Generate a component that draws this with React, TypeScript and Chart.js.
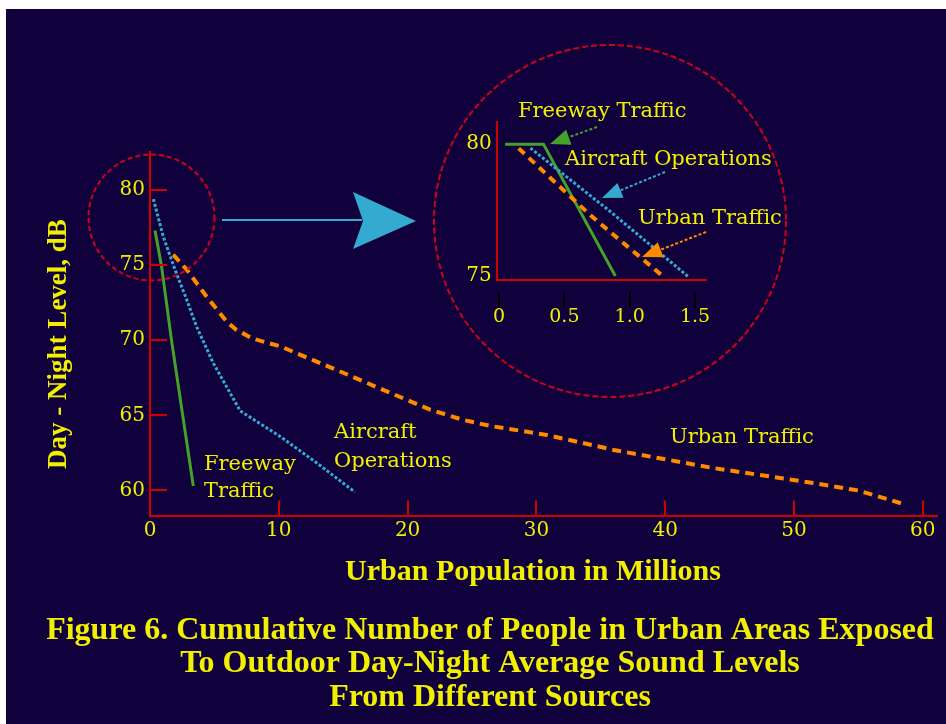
import React, { useEffect, useRef } from 'react';
import { Chart, registerables } from 'chart.js';

Chart.register(...registerables);

// ---------- data ----------
const mainXTicks = [0, 10, 20, 30, 40, 50, 60];
const mainYTicks = [60, 65, 70, 75, 80];

const freewayX = [0.39, 0.9, 1.67, 2.54, 3.36];
const freewayY = [77.3, 74.9, 70, 65, 60.3];

const aircraftX = [0.26, 1.03, 1.94, 2.85, 3.62, 4.9, 7.0, 10.1, 13.0, 15.9];
const aircraftY = [79.4, 76.9, 74.7, 72.7, 70.9, 68.5, 65.3, 63.6, 61.8, 59.9];

const urbanX = [1.8, 2.85, 4.4, 6.0, 6.7, 8.0, 10.1, 14.0, 18.1, 21.7, 24.3, 26.4, 30.8, 36.0, 43.7, 51.5, 55.0, 58.5];
const urbanY = [75.7, 74.7, 72.9, 71.2, 70.7, 70.1, 69.6, 68.2, 66.7, 65.4, 64.7, 64.3, 63.7, 62.7, 61.5, 60.5, 60.0, 59.1];

const insetXTicks = [0, 0.5, 1.0, 1.5];
const insetXLabels = ['0', '0.5', '1.0', '1.5'];
const insetYTicks = [75, 80];

const insetFreewayX = [0.046, 0.34, 0.89];
const insetFreewayY = [80, 80, 75];
const insetAircraftX = [0.24, 0.85, 1.45];
const insetAircraftY = [79.85, 77.45, 74.97];
const insetUrbanX = [0.15, 0.7, 1.26];
const insetUrbanY = [79.84, 77.3, 74.97];

const captionLines = [
  'Figure 6. Cumulative Number of People in Urban Areas Exposed',
  'To Outdoor Day-Night Average Sound Levels',
  'From Different Sources',
];
const xTitle = 'Urban Population in Millions';
const yTitle = 'Day - Night Level, dB';

// ---------- styles ----------
const BG = '#10003c';
const YELLOW = '#f0f000';
const RED = '#d00000';
const CIRCLE = '#d00018';
const GREEN = '#44a22a';
const BLUE = '#35aad0';
const ORANGE = '#ff8a00';
const SERIF = "'DejaVu Serif', serif";
const BOLD = "'Liberation Serif', serif";

const pts = (xs: number[], ys: number[]) => xs.map((x, i) => ({ x, y: ys[i] }));

function dashedCircle(ctx: CanvasRenderingContext2D, cx: number, cy: number, r: number, dash: number[]) {
  ctx.save();
  ctx.strokeStyle = CIRCLE;
  ctx.lineWidth = 2;
  ctx.setLineDash(dash);
  ctx.beginPath();
  ctx.arc(cx, cy, r, 0, Math.PI * 2);
  ctx.stroke();
  ctx.restore();
}

function arrow(ctx: CanvasRenderingContext2D, x1: number, y1: number, x2: number, y2: number, color: string) {
  const ang = Math.atan2(y2 - y1, x2 - x1);
  const hl = 20, hw = 8;
  const bx = x2 - Math.cos(ang) * hl, by = y2 - Math.sin(ang) * hl;
  ctx.save();
  ctx.strokeStyle = color;
  ctx.fillStyle = color;
  ctx.lineWidth = 2;
  ctx.setLineDash([3, 2]);
  ctx.beginPath();
  ctx.moveTo(x1, y1);
  ctx.lineTo(bx, by);
  ctx.stroke();
  ctx.setLineDash([]);
  ctx.beginPath();
  ctx.moveTo(x2, y2);
  ctx.lineTo(bx + Math.sin(ang) * hw, by - Math.cos(ang) * hw);
  ctx.lineTo(bx - Math.sin(ang) * hw, by + Math.cos(ang) * hw);
  ctx.closePath();
  ctx.fill();
  ctx.restore();
}

const mainDecor = {
  id: 'mainDecor',
  afterDraw(chart: any) {
    const { ctx, chartArea, scales } = chart;
    ctx.save();
    // inner tick marks
    ctx.strokeStyle = RED;
    ctx.lineWidth = 2;
    mainYTicks.forEach((v) => {
      const y = Math.round(scales.y.getPixelForValue(v));
      ctx.beginPath();
      ctx.moveTo(chartArea.left, y);
      ctx.lineTo(chartArea.left + 17, y);
      ctx.stroke();
    });
    mainXTicks.forEach((v) => {
      if (v === 0) return;
      const x = Math.round(scales.x.getPixelForValue(v));
      ctx.beginPath();
      ctx.moveTo(x, chartArea.bottom);
      ctx.lineTo(x, chartArea.bottom - 16);
      ctx.stroke();
    });
    // circles
    dashedCircle(ctx, 151.5, 217.5, 63, [5, 3]);
    dashedCircle(ctx, 610, 221, 176, [6, 3]);
    // big arrow
    ctx.strokeStyle = BLUE;
    ctx.fillStyle = BLUE;
    ctx.lineWidth = 2;
    ctx.beginPath();
    ctx.moveTo(222, 220);
    ctx.lineTo(362, 220);
    ctx.stroke();
    ctx.beginPath();
    ctx.moveTo(353, 192);
    ctx.lineTo(416, 221);
    ctx.lineTo(353, 249);
    ctx.lineTo(363, 221);
    ctx.closePath();
    ctx.fill();
    // axis titles
    ctx.fillStyle = YELLOW;
    ctx.textAlign = 'center';
    ctx.textBaseline = 'middle';
    ctx.font = `bold 30px ${BOLD}`;
    ctx.fillText(xTitle, 533, 572);
    ctx.save();
    ctx.translate(59, 344);
    ctx.rotate(-Math.PI / 2);
    ctx.font = `bold 27px ${BOLD}`;
    ctx.fillText(yTitle, 0, 0);
    ctx.restore();
    // labels
    ctx.font = `21px ${SERIF}`;
    ctx.textAlign = 'left';
    ctx.textBaseline = 'alphabetic';
    ctx.fillText('Freeway', 204, 470);
    ctx.fillText('Traffic', 204, 497);
    ctx.fillText('Aircraft', 334, 438);
    ctx.fillText('Operations', 334, 467);
    ctx.fillText('Urban Traffic', 670, 443);
    ctx.restore();
  },
};

const insetDecor = {
  id: 'insetDecor',
  afterDraw(chart: any) {
    const { ctx, chartArea, scales } = chart;
    ctx.save();
    ctx.strokeStyle = '#000000';
    ctx.lineWidth = 2;
    insetXTicks.forEach((v) => {
      const x = Math.round(scales.x.getPixelForValue(v));
      ctx.beginPath();
      ctx.moveTo(x, chartArea.bottom + 12);
      ctx.lineTo(x, chartArea.bottom + 28);
      ctx.stroke();
    });
    arrow(ctx, 597, 127, 550, 144, GREEN);
    arrow(ctx, 665, 172, 602, 198, BLUE);
    arrow(ctx, 706, 232, 642, 257, ORANGE);
    ctx.fillStyle = YELLOW;
    ctx.font = `21px ${SERIF}`;
    ctx.textAlign = 'left';
    ctx.textBaseline = 'alphabetic';
    ctx.fillText('Freeway Traffic', 518, 117);
    ctx.fillText('Aircraft Operations', 565, 165);
    ctx.fillText('Urban Traffic', 638, 224);
    ctx.restore();
  },
};

export default function App() {
  const mainRef = useRef<HTMLCanvasElement>(null);
  const insetRef = useRef<HTMLCanvasElement>(null);

  useEffect(() => {
    const main = new Chart(mainRef.current as HTMLCanvasElement, {
      type: 'line',
      data: {
        datasets: [
          {
            label: 'Urban Traffic',
            data: pts(urbanX, urbanY),
            borderColor: ORANGE,
            borderWidth: 4,
            borderDash: [9, 6],
            pointRadius: 0,
            fill: false,
          },
          {
            label: 'Aircraft Operations',
            data: pts(aircraftX, aircraftY),
            borderColor: BLUE,
            borderWidth: 3,
            borderDash: [3, 2],
            pointRadius: 0,
            fill: false,
          },
          {
            label: 'Freeway Traffic',
            data: pts(freewayX, freewayY),
            borderColor: GREEN,
            borderWidth: 3,
            pointRadius: 0,
            fill: false,
          },
        ],
      },
      options: {
        animation: false,
        responsive: false,
        layout: { padding: { left: 43, right: 9, top: 152, bottom: 0 } },
        plugins: {
          legend: { display: false },
          tooltip: { enabled: false },
          title: {
            display: true,
            position: 'bottom',
            text: captionLines,
            color: YELLOW,
            font: { family: BOLD, weight: 'bold', size: 32, lineHeight: 1.047 },
            padding: { top: 17, bottom: 10 },
          },
        },
        scales: {
          x: {
            type: 'linear',
            min: 0,
            max: 61.1,
            afterBuildTicks: (s: any) => {
              s.ticks = mainXTicks.map((v) => ({ value: v }));
            },
            afterFit: (s: any) => {
              s.height = 80;
            },
            grid: { display: false, drawTicks: false, tickLength: 0 },
            border: { display: true, color: RED, width: 2 },
            ticks: {
              color: YELLOW,
              font: { family: SERIF, size: 20 },
              padding: 2,
              autoSkip: false,
              maxRotation: 0,
            },
            title: { display: false },
          },
          y: {
            type: 'linear',
            min: 58.27,
            max: 82.53,
            afterBuildTicks: (s: any) => {
              s.ticks = mainYTicks.map((v) => ({ value: v }));
            },
            afterFit: (s: any) => {
              s.width = 107;
            },
            grid: { display: false, drawTicks: false, tickLength: 0 },
            border: { display: true, color: RED, width: 2 },
            ticks: {
              color: YELLOW,
              font: { family: SERIF, size: 20 },
              padding: 5,
            },
            title: { display: false },
          },
        },
      },
      plugins: [mainDecor],
    } as any);

    const inset = new Chart(insetRef.current as HTMLCanvasElement, {
      type: 'line',
      data: {
        datasets: [
          {
            label: 'Urban Traffic',
            data: pts(insetUrbanX, insetUrbanY),
            borderColor: ORANGE,
            borderWidth: 4,
            borderDash: [8, 6],
            pointRadius: 0,
            fill: false,
          },
          {
            label: 'Aircraft Operations',
            data: pts(insetAircraftX, insetAircraftY),
            borderColor: BLUE,
            borderWidth: 3,
            borderDash: [3, 2],
            pointRadius: 0,
            fill: false,
          },
          {
            label: 'Freeway Traffic',
            data: pts(insetFreewayX, insetFreewayY),
            borderColor: GREEN,
            borderWidth: 3,
            pointRadius: 0,
            fill: false,
          },
        ],
      },
      options: {
        animation: false,
        responsive: false,
        layout: { padding: { left: 456.7, right: 240, top: 121.7, bottom: 384 } },
        plugins: {
          legend: { display: false },
          tooltip: { enabled: false },
          title: { display: false },
        },
        scales: {
          x: {
            type: 'linear',
            min: -0.018,
            max: 1.584,
            afterBuildTicks: (s: any) => {
              s.ticks = insetXTicks.map((v) => ({ value: v }));
            },
            afterFit: (s: any) => {
              s.height = 60;
            },
            grid: { display: false, drawTicks: false, tickLength: 0 },
            border: { display: true, color: RED, width: 2 },
            ticks: {
              color: YELLOW,
              font: { family: SERIF, size: 19 },
              padding: 26,
              autoSkip: false,
              maxRotation: 0,
              callback: (_v: any, i: number) => insetXLabels[i],
            },
          },
          y: {
            type: 'linear',
            min: 74.85,
            max: 80.85,
            afterBuildTicks: (s: any) => {
              s.ticks = insetYTicks.map((v) => ({ value: v }));
            },
            afterFit: (s: any) => {
              s.width = 40;
            },
            grid: { display: false, drawTicks: false, tickLength: 0 },
            border: { display: true, color: RED, width: 2 },
            ticks: {
              color: YELLOW,
              font: { family: SERIF, size: 20 },
              padding: 5,
            },
          },
        },
      },
      plugins: [insetDecor],
    } as any);

    return () => {
      main.destroy();
      inset.destroy();
    };
  }, []);

  return (
    <div
      style={{
        position: 'absolute',
        left: 0,
        top: 0,
        width: 946,
        height: 724,
        background: '#ffffff',
        overflow: 'hidden',
      }}
    >
      <div style={{ position: 'absolute', left: 6, top: 9, right: 0, bottom: 0, background: BG }} />
      <canvas
        ref={mainRef}
        width={946}
        height={724}
        style={{ position: 'absolute', left: 0, top: 0, width: 946, height: 724 }}
      />
      <canvas
        ref={insetRef}
        width={946}
        height={724}
        style={{ position: 'absolute', left: 0, top: 0, width: 946, height: 724 }}
      />
    </div>
  );
}
